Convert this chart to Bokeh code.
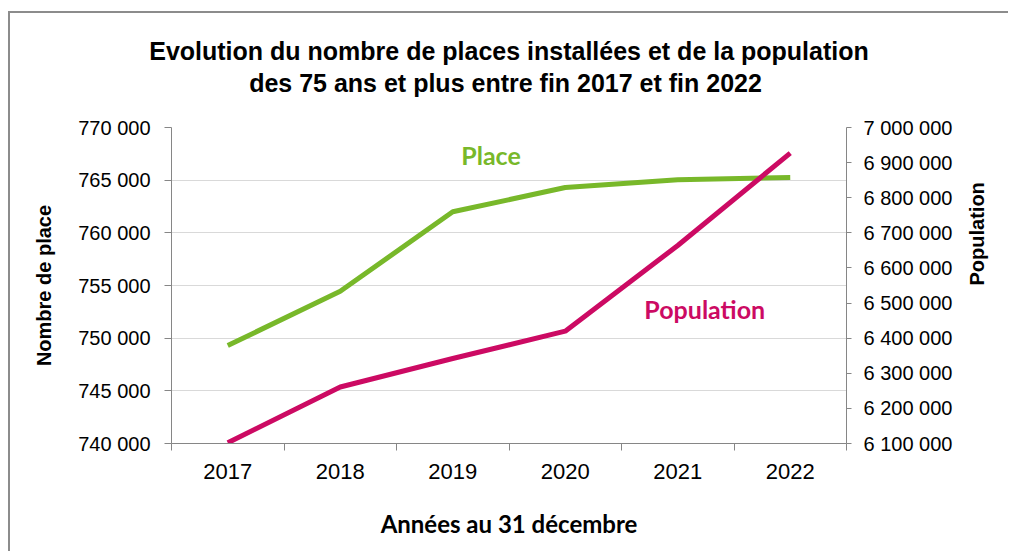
import math
from bokeh.plotting import figure
from bokeh.models import Range1d, LinearAxis, FixedTicker, Label, Title, ColumnDataSource
from bokeh.embed import file_html
from bokeh.resources import INLINE

# ---- data ----
years = [2017, 2018, 2019, 2020, 2021, 2022]
places = [749300, 754450, 762000, 764300, 765050, 765250]
population = [6102000, 6261000, 6342000, 6420000, 6664000, 6927000]

place_ticks = [740000, 745000, 750000, 755000, 760000, 765000, 770000]
pop_ticks = [6100000, 6200000, 6300000, 6400000, 6500000, 6600000, 6700000, 6800000, 6900000, 7000000]

title_lines = ["Evolution du nombre de places installées et de la population",
               "des 75 ans et plus entre fin 2017 et  fin 2022"]
x_title = "Années au 31 décembre"
y_title = "Nombre de place"
y2_title = "Population"
series_names = ["Place", "Population"]

GREEN = "#78b82a"
PINK = "#cc0a63"
AXIS = "#868686"
GRID = "#d9d9d9"


def fmt(v):
    return f"{v:,}".replace(",", "\u00a0")


p = figure(width=1000, height=540, output_backend="svg", toolbar_location=None,
           x_range=Range1d(2016.5, 2022.5), y_range=Range1d(740000, 770000),
           min_border_left=161, min_border_right=164, min_border_top=114, min_border_bottom=110,
           background_fill_color="white", border_fill_color="white")
p.outline_line_color = None
p.styles = {"border-left": "2px solid #8c8c8c", "border-top": "2px solid #8c8c8c",
            "margin-left": "8px", "margin-top": "11px"}

p.extra_y_ranges = {"pop": Range1d(6100000, 7000000)}

# grid
p.xgrid.visible = False
p.ygrid.ticker = FixedTicker(ticks=place_ticks)
p.ygrid.grid_line_color = GRID
p.ygrid.grid_line_width = 1

# x axis
xa = p.xaxis[0]
xa.ticker = FixedTicker(ticks=years, minor_ticks=[y - 0.5 for y in years] + [years[-1] + 0.5])
xa.major_tick_out = 0
xa.major_tick_in = 0
xa.minor_tick_out = 7
xa.minor_tick_in = 0
xa.minor_tick_line_color = AXIS
xa.axis_line_color = AXIS
xa.major_label_text_font = "Liberation Sans"
xa.major_label_text_font_size = "22px"
xa.major_label_text_color = "#000000"
xa.major_label_standoff = 13
xa.axis_label = x_title
xa.axis_label_text_font = "Lato"
xa.axis_label_text_font_style = "bold"
xa.axis_label_text_font_size = "24px"
xa.axis_label_text_color = "#000000"
xa.axis_label_standoff = 27

# left y axis
ya = p.yaxis[0]
ya.ticker = FixedTicker(ticks=place_ticks)
ya.major_label_overrides = {t: fmt(t) for t in place_ticks}
ya.minor_tick_line_color = None
ya.major_tick_out = 7
ya.major_tick_in = 0
ya.major_tick_line_color = AXIS
ya.axis_line_color = AXIS
ya.major_label_text_font = "Liberation Sans"
ya.major_label_text_font_size = "20px"
ya.major_label_text_color = "#000000"
ya.major_label_standoff = 14
ya.axis_label = y_title
ya.axis_label_text_font = "Liberation Sans"
ya.axis_label_text_font_style = "bold"
ya.axis_label_text_font_size = "20px"
ya.axis_label_text_color = "#000000"
ya.axis_label_standoff = 20

# right y axis (label read bottom-to-top, like the left one)
ra = LinearAxis(y_range_name="pop")
ra.ticker = FixedTicker(ticks=pop_ticks)
ra.major_label_overrides = {t: fmt(t) for t in pop_ticks}
ra.minor_tick_line_color = None
ra.major_tick_out = 5
ra.major_tick_in = 0
ra.major_tick_line_color = AXIS
ra.axis_line_color = AXIS
ra.major_label_text_font = "Liberation Sans"
ra.major_label_text_font_size = "20px"
ra.major_label_text_color = "#000000"
ra.major_label_standoff = 12
ra.axis_label = y2_title
ra.axis_label_orientation = math.pi / 2
ra.axis_label_text_font = "Liberation Sans"
ra.axis_label_text_font_style = "bold"
ra.axis_label_text_font_size = "20px"
ra.axis_label_text_color = "#000000"
ra.axis_label_standoff = 22
p.add_layout(ra, "right")

# lines
src = ColumnDataSource(dict(year=years, places=places, population=population))
p.line("year", "places", source=src, line_color=GREEN, line_width=5)
p.line("year", "population", source=src, line_color=PINK, line_width=5, y_range_name="pop")

# series labels
p.add_layout(Label(x=2019.34, y=767350, text=series_names[0], text_align="center",
                   text_baseline="middle", text_font="Lato", text_font_style="bold",
                   text_font_size="25px", text_color=GREEN))
p.add_layout(Label(x=2021.24, y=752740, text=series_names[1], text_align="center",
                   text_baseline="middle", text_font="Lato", text_font_style="bold",
                   text_font_size="25px", text_color=PINK))

# title: spacer next to the frame, then the two lines (last added sits on top)
p.add_layout(Title(text=" ", text_font_size="1px", standoff=28), "above")
p.add_layout(Title(text=title_lines[1], align="center", text_font="Liberation Sans",
                   text_font_style="bold", text_font_size="25px", text_color="#000000",
                   standoff=0), "above")
p.add_layout(Title(text=title_lines[0], align="center", text_font="Liberation Sans",
                   text_font_style="bold", text_font_size="25px", text_color="#000000",
                   standoff=4), "above")

open("out.html", "w").write(file_html(p, INLINE))
